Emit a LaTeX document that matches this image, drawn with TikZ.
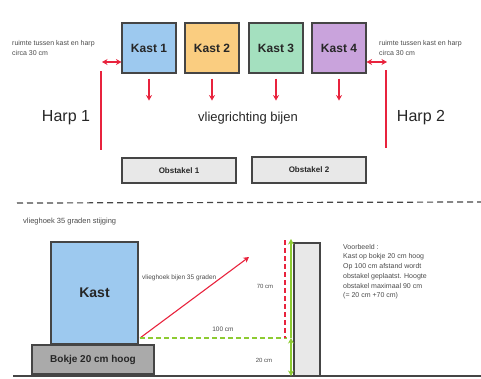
\documentclass[tikz,border=0pt]{standalone}
\usepackage{fontspec}
\setmainfont{Liberation Sans}
\usepackage{xcolor}
\usetikzlibrary{arrows.meta,positioning}

\definecolor{kastblauw}{HTML}{9DC9EF}
\definecolor{kastoranje}{HTML}{FACD80}
\definecolor{kastgroen}{HTML}{A4E0BF}
\definecolor{kastpaars}{HTML}{C9A3DC}
\definecolor{obstgrijs}{HTML}{E8E8E8}
\definecolor{bokgrijs}{HTML}{AAAAAA}
\definecolor{rand}{HTML}{454545}
\definecolor{harprood}{HTML}{E8233D}
\definecolor{lijngroen}{HTML}{8DCB32}
\definecolor{tekst}{HTML}{262626}
\definecolor{klein}{HTML}{4A4A4A}

\begin{document}
\begin{tikzpicture}[
    x=1pt, y=-1pt,
    >={Stealth[length=5.5pt,width=6pt]},
    kastbox/.style={draw=rand,line width=1.1pt,minimum width=54pt,minimum height=50pt,
                    inner sep=0pt,font=\fontsize{12}{14}\selectfont\bfseries,text=tekst},
    obst/.style={draw=rand,line width=1.1pt,fill=obstgrijs,inner sep=0pt,
                 font=\fontsize{8}{10}\selectfont\bfseries,text=tekst},
    notitie/.style={anchor=west,align=left,inner sep=0pt,text=klein,
                    font=\fontsize{7}{10}\selectfont},
    maat/.style={inner sep=0pt,text=klein,font=\fontsize{6}{7}\selectfont},
    groot/.style={inner sep=0pt,text=tekst,font=\fontsize{16}{18}\selectfont},
    vlucht/.style={->,harprood,line width=1.1pt},
    afstand/.style={<->,harprood,line width=1.1pt},
    harp/.style={harprood,line width=1.5pt},
    hoogte/.style={lijngroen,line width=1.3pt},
  ]
  \useasboundingbox (0,0) rectangle (481,378);

  % --- bovenaanzicht: vier kasten ---
  \node[kastbox,fill=kastblauw]  (k1) at (149,48) {Kast 1};
  \node[kastbox,fill=kastoranje] (k2) at (212,48) {Kast 2};
  \node[kastbox,fill=kastgroen]  (k3) at (276,48) {Kast 3};
  \node[kastbox,fill=kastpaars]  (k4) at (339,48) {Kast 4};

  \foreach \k in {k1,k2,k3,k4}
    \draw[vlucht] ([yshift=-5pt]\k.south) -- ++(0,22);

  % --- harpen links en rechts ---
  \coordinate (h1top) at (101,71);
  \coordinate (h1bot) at (101,150);
  \coordinate (h2top) at (386,70);
  \coordinate (h2bot) at (386,148);
  \draw[harp] (h1top) -- (h1bot);
  \draw[harp] (h2top) -- (h2bot);

  \coordinate (a1) at (102,62);
  \coordinate (a2) at (387,62);
  \draw[afstand] (a1) -- (a1 -| k1.west);
  \draw[afstand] (a2 -| k4.east) -- (a2);

  \node[notitie] (r1) at (12,48) {ruimte tussen kast en harp\\circa 30 cm};
  \node[notitie] (r2) at (379,48) {ruimte tussen kast en harp\\circa 30 cm};

  \node[groot] (harp1) at (66,118) {Harp 1};
  \node[groot] (harp2) at (421,118) {Harp 2};
  \node[groot,font=\fontsize{13}{15}\selectfont] (richting) at (248,118) {vliegrichting bijen};

  % --- obstakels ---
  \node[obst,minimum width=114pt,minimum height=25pt] (o1) at (179,170.5) {Obstakel 1};
  \node[obst,minimum width=114pt,minimum height=26pt] (o2) at (309,170)   {Obstakel 2};

  % --- scheiding ---
  \coordinate (s1) at (17,203);
  \coordinate (s2) at (481,202);
  \draw[rand,line width=1.2pt,dash pattern=on 6pt off 4pt] (s1) -- (s2);

  % --- zijaanzicht ---
  \node[notitie,font=\fontsize{7.5}{9}\selectfont] (titel) at (23,222) {vlieghoek 35 graden stijging};

  \node[kastbox,fill=kastblauw,minimum width=87pt,minimum height=102pt,
        font=\fontsize{14}{16}\selectfont\bfseries] (kast) at (94.5,293) {Kast};
  \node[obst,fill=bokgrijs,minimum width=122pt,minimum height=29pt,
        font=\fontsize{10}{12}\selectfont\bfseries] (bok) at (93,359.5) {Bokje 20 cm hoog};
  \node[obst,minimum width=26pt,minimum height=133pt] (paal) at (307,309.5) {};

  \coordinate (g1) at (13,376);
  \coordinate (g2) at (481,376);
  \draw[rand,line width=1.5pt] (g1) -- (g2);

  \coordinate (start) at (140,338);
  \coordinate (top)   at (249,257);
  \coordinate (voet)  at (287,338);
  \coordinate (rtop)  at (285,240);
  \coordinate (gtop)  at (291,239);
  \coordinate (gmid)  at (291,338);
  \coordinate (gbot)  at (291,376);

  \draw[vlucht] (start) -- (top);
  \draw[hoogte,dash pattern=on 5pt off 3pt] (start) -- (voet);
  \draw[harprood,line width=1.1pt,dash pattern=on 5pt off 3pt] (rtop) -- (voet -| rtop);
  \draw[hoogte,->] (gmid) -- (gtop);
  \draw[hoogte,<->] (gmid) -- (gbot);

  \node[notitie,font=\fontsize{6.5}{8}\selectfont] (hoek) at (142,278) {vlieghoek bijen 35 graden};
  \node[maat,font=\fontsize{6.5}{8}\selectfont] (m100) at (223,329) {100 cm};
  \node[maat] (m70) at (265,286) {70 cm};
  \node[maat] (m20) at (264,360) {20 cm};

  \node[notitie,anchor=north west,font=\fontsize{7}{9.7}\selectfont] (voorbeeld) at (343,244)
    {Voorbeeld :\\Kast op bokje 20 cm hoog\\Op 100 cm afstand wordt\\obstakel geplaatst. Hoogte\\obstakel maximaal 90 cm\\(= 20 cm +70 cm)};

\end{tikzpicture}
\end{document}
